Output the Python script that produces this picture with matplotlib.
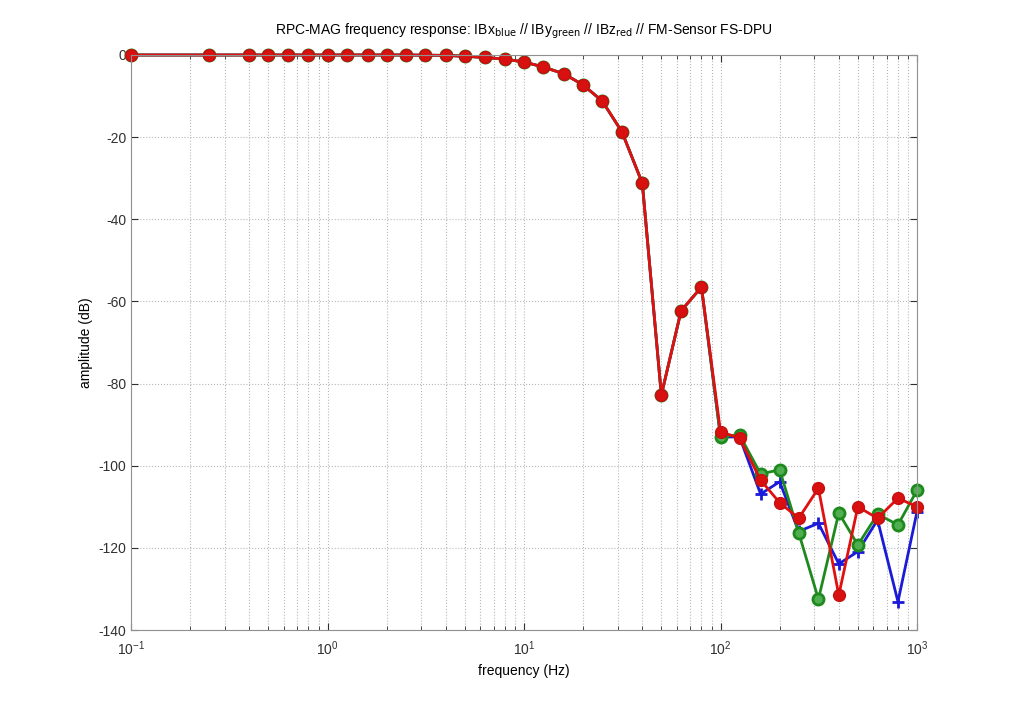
import numpy as np
from matplotlib import pyplot as plt
from matplotlib.ticker import LogLocator, FixedLocator, NullFormatter

# third-octave frequencies (Hz)
freq = [0.1, 0.25, 0.4, 0.5, 0.63, 0.8, 1.0, 1.25, 1.6, 2.0, 2.5, 3.15, 4.0,
        5.0, 6.3, 8.0, 10.0, 12.5, 16.0, 20.0, 25.0, 31.5, 40.0, 50.0, 63.0,
        80.0, 100.0, 125.0, 160.0, 200.0, 250.0, 315.0, 400.0, 500.0, 630.0,
        800.0, 1000.0]

# common part of the response, below 100 Hz
low = [0.0, 0.0, 0.0, 0.0, 0.0, 0.0, 0.0, 0.0, 0.0, 0.0, 0.0, -0.05, -0.1,
       -0.3, -0.6, -1.0, -1.7, -2.9, -4.6, -7.3, -11.2, -18.7, -31.2, -82.8,
       -62.3, -56.5]

# 100 Hz .. 1 kHz
ibx_high = [-93.0, -93.0, -106.9, -103.9, -116.0, -114.0, -123.9, -120.9,
            -113.2, -133.1, -111.2]
iby_high = [-92.9, -92.5, -102.0, -101.0, -116.3, -132.5, -111.5, -119.3,
            -111.8, -114.4, -106.0]
ibz_high = [-91.7, -93.3, -103.5, -109.0, -112.8, -105.5, -131.5, -110.0,
            -112.8, -107.9, -110.0]

ibx = low + ibx_high
iby = low + iby_high
ibz = low + ibz_high

plt.rcParams['font.family'] = ['Liberation Sans', 'DejaVu Sans']
plt.rcParams['axes.unicode_minus'] = False

fig = plt.figure(figsize=(10.10, 7.06), dpi=100)
ax = fig.add_axes([131 / 1010, 1 - 630 / 706, (917 - 131) / 1010, (630 - 55) / 706])

ax.plot(freq, ibx, '-+', color='#1a1ad8', lw=2, ms=9, mew=2, clip_on=False)
ax.plot(freq, iby, '-o', color='#1e8a1e', lw=2, ms=8, mew=2,
        mfc='#4fae4f', clip_on=False)
ax.plot(freq, ibz, '-o', color='#e01010', lw=2, ms=8.5, mew=1,
        mfc='#d81010', mec='#c41010', clip_on=False)

ax.set_xscale('log')
ax.set_xlim(0.1, 1000)
ax.set_ylim(-140, 0)
ax.yaxis.set_major_locator(FixedLocator(np.arange(-140, 1, 20)))
ax.xaxis.set_minor_locator(LogLocator(base=10, subs=np.arange(2, 10)))
ax.xaxis.set_minor_formatter(NullFormatter())

ax.grid(True, which='major', ls=':', color='#b8b8b8', lw=0.8)
ax.grid(True, which='minor', axis='x', ls=':', color='#b8b8b8', lw=0.8)
ax.set_axisbelow(True)
for s in ax.spines.values():
    s.set_color('#909090')
ax.tick_params(which='both', direction='in', colors='#303030', labelsize=10,
               top=True, right=True)
ax.tick_params(which='minor', length=3)
ax.tick_params(which='major', length=5)
ax.tick_params(axis='x', which='major', pad=7)

ax.set_xlabel('frequency (Hz)', fontsize=10)
ax.set_ylabel('amplitude (dB)', fontsize=10)
ax.set_title(r'RPC-MAG frequency response: IBx$_{\mathrm{blue}}$ // '
             r'IBy$_{\mathrm{green}}$ // IBz$_{\mathrm{red}}$ // FM-Sensor FS-DPU',
             fontsize=10, pad=15)

fig.savefig('out.png', dpi=100)
